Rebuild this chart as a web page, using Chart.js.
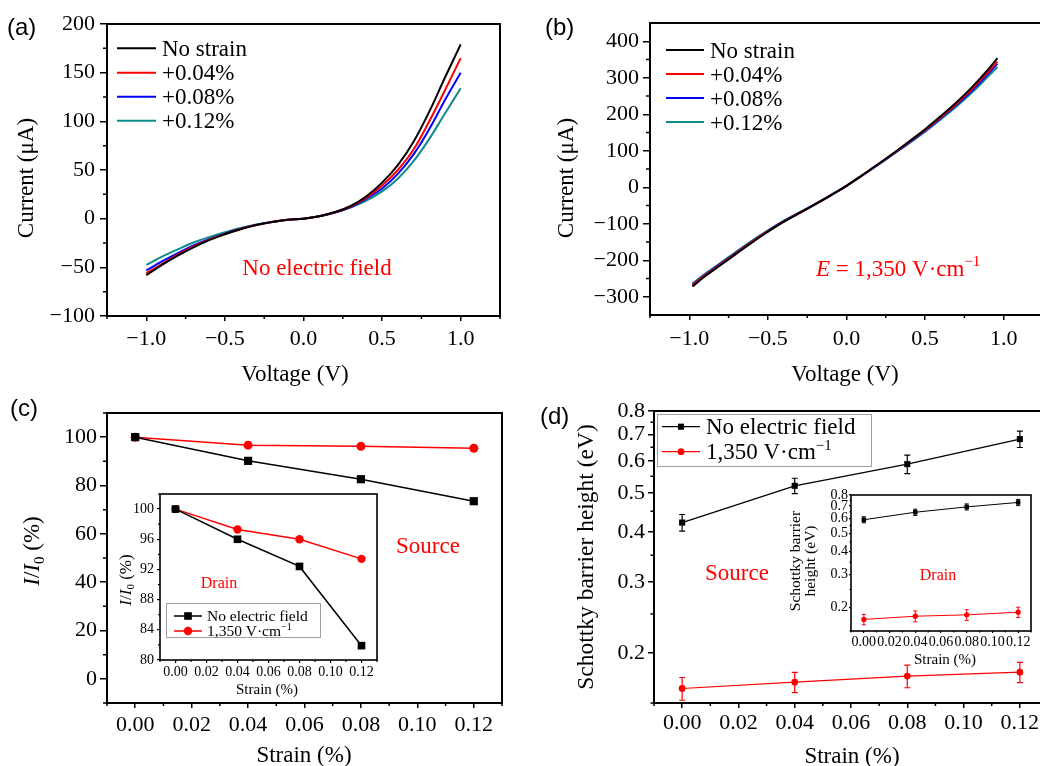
<!DOCTYPE html>
<html><head><meta charset="utf-8">
<script src="https://cdn.jsdelivr.net/npm/chart.js@4.4.1/dist/chart.umd.min.js"></script>
<style>
html,body{margin:0;padding:0;background:#fff;width:1040px;height:766px;overflow:hidden;position:relative}
canvas{position:absolute;left:0;top:0}
</style></head><body>
<canvas id="cA" width="1100" height="766"></canvas>
<canvas id="cB" width="1100" height="766"></canvas>
<canvas id="cC" width="1100" height="766"></canvas>
<canvas id="cD" width="1100" height="766"></canvas>
<canvas id="cCin" width="1100" height="766"></canvas>
<canvas id="cDin" width="1100" height="766"></canvas>
<script>
// ---------- data ----------
const voltageA = [-1.0,-0.9,-0.8,-0.7,-0.6,-0.5,-0.4,-0.3,-0.2,-0.1,0,0.1,0.2,0.3,0.4,0.5,0.6,0.7,0.8,0.9,1.0];
const aNoStrain = [-58,-47.5,-38,-29.5,-22,-16,-10.8,-6.6,-3.5,-1.2,0,2.5,6.8,13,23,37,55,79,110,145,179];
const aStrain004 = [-56,-46.5,-37,-28.5,-21.5,-15.8,-10.6,-6.5,-3.5,-1.2,0,2.5,6.6,12.5,21.5,34,50,71,100,132,165];
const aStrain008 = [-53,-44,-35.5,-27.5,-21,-15.4,-10.2,-6.4,-3.4,-1.2,0,2.5,6.4,12,20.5,31,46,66,92,122,150];
const aStrain012 = [-47.5,-39,-31.5,-24.5,-19,-14,-9.5,-6,-3.3,-1.2,0,2.4,6.2,11.5,18.5,28,41,59,82,108,134];

const voltageB = [-0.98,-0.9,-0.8,-0.7,-0.6,-0.5,-0.4,-0.3,-0.2,-0.1,0,0.1,0.2,0.3,0.4,0.5,0.6,0.7,0.8,0.9,0.96];
const bNoStrain = [-272,-244,-213,-182,-151,-122,-95,-71,-47,-22,4,33,63,94,126,159,195,233,275,322,354];
const bStrain004 = [-269,-241,-211,-180,-149,-121,-94,-71,-47,-22,4,33,63,93,125,157,192,229,270,315,344];
const bStrain008 = [-267,-240,-209,-179,-148,-120,-93,-70,-46,-22,4,33,62,92,123,155,190,226,266,310,338];
const bStrain012 = [-264,-237,-207,-176,-146,-118,-92,-69,-46,-21,4,32,61,91,121,152,186,221,260,303,329];

const strainX = [0, 0.04, 0.08, 0.12];
const cNoField = [100, 90.2, 82.6, 73.5];
const cField = [100, 96.7, 96.2, 95.4];
const cInNoField = [100, 96.0, 92.4, 81.9];
const cInField = [100, 97.3, 96.0, 93.4];

const dNoField = [0.422, 0.521, 0.590, 0.681];
const dNoFieldErr = [0.020, 0.023, 0.031, 0.032];
const dField = [0.163, 0.169, 0.175, 0.179];
const dFieldErr = [0.0106, 0.0098, 0.0113, 0.0104];
const dInNoField = [0.590, 0.647, 0.691, 0.730];
const dInNoFieldErr = [0.022, 0.025, 0.026, 0.028];
const dInField = [0.173, 0.180, 0.183, 0.189];
const dInFieldErr = [0.011, 0.012, 0.012, 0.012];

// tick labels
const xTicksV = [-1.0, -0.5, 0.0, 0.5, 1.0];
const xMinorV = [-1.25, -0.75, -0.25, 0.25, 0.75, 1.25];
const yTicksA = [-100, -50, 0, 50, 100, 150, 200];
const yMinorA = [-75, -25, 25, 75, 125, 175];
const yTicksB = [-300, -200, -100, 0, 100, 200, 300, 400];
const yMinorB = [-250, -150, -50, 50, 150, 250, 350];
const xTicksS = [0.00, 0.02, 0.04, 0.06, 0.08, 0.10, 0.12];
const xMinorS = [-0.01, 0.01, 0.03, 0.05, 0.07, 0.09, 0.11, 0.13];
const yTicksC = [0, 20, 40, 60, 80, 100];
const yMinorC = [-10, 10, 30, 50, 70, 90, 110];
const yTicksCin = [80, 84, 88, 92, 96, 100];
const yMinorCin = [82, 86, 90, 94, 98, 102];
const yTicksD = [0.2, 0.3, 0.4, 0.5, 0.6, 0.7, 0.8];
const yMinorD = [0.15, 0.25, 0.35, 0.45, 0.55, 0.65, 0.75];

const strainLabels = ['No strain', '+0.04%', '+0.08%', '+0.12%'];

// ---------- helpers ----------
const SERIF = '"Liberation Serif","Times New Roman",serif';
const SANS = '"Liberation Sans",Arial,sans-serif';
const W = 1100, H = 766;
const BLACK = '#000000', RED = '#ff0000', BLUE = '#0000ff', TEAL = '#0e8c8c';
const fieldLabel = [{t:'1,350 V\u00b7cm'},{t:'\u22121', sup:true}];
const ratioLabel = [{t:'I', i:true},{t:'/'},{t:'I', i:true},{t:'0', sub:true},{t:' (%)'}];

const pts = (xs, ys) => xs.map((x, i) => ({x: x, y: ys[i]}));
const signed = (v, d) => (v < 0 ? '\u2212' : '') + (d == null ? String(Math.abs(v)) : Math.abs(v).toFixed(d));

function drawRich(ctx, t) {
  const size = t.size, fam = t.family || SERIF;
  const segs = typeof t.segs === 'string' ? [{t: t.segs}] : t.segs;
  const fontOf = s => (s.i ? 'italic ' : '') + ((s.sub || s.sup) ? size * 0.65 : size) + 'px ' + fam;
  let w = 0;
  for (const s of segs) { ctx.font = fontOf(s); w += ctx.measureText(s.t).width; }
  ctx.save();
  ctx.translate(t.x, t.y);
  if (t.rot) ctx.rotate(t.rot);
  let x = t.align === 'left' ? 0 : (t.align === 'right' ? -w : -w / 2);
  const base = size * 0.33;
  ctx.fillStyle = t.color || '#000';
  ctx.textAlign = 'left';
  ctx.textBaseline = 'alphabetic';
  for (const s of segs) {
    ctx.font = fontOf(s);
    const dy = s.sub ? size * 0.22 : (s.sup ? -size * 0.42 : 0);
    ctx.fillText(s.t, x, base + dy);
    x += ctx.measureText(s.t).width;
  }
  ctx.restore();
}

function drawMarker(ctx, style, r, x, y, color) {
  ctx.save();
  ctx.fillStyle = color;
  ctx.beginPath();
  if (style === 'rect') { const h = r * Math.SQRT1_2; ctx.rect(x - h, y - h, 2 * h, 2 * h); }
  else ctx.arc(x, y, r, 0, Math.PI * 2);
  ctx.fill();
  ctx.restore();
}

function panelPlugin(cfg) {
  return {
    id: 'panel',
    beforeDraw(chart) {
      if (!cfg.bg) return;
      const a = chart.chartArea, ctx = chart.ctx;
      ctx.save(); ctx.fillStyle = '#fff';
      ctx.fillRect(a.left, a.top, a.right - a.left, a.bottom - a.top);
      ctx.restore();
    },
    beforeDatasetsDraw(chart) {
      if (!cfg.errors) return;
      const ctx = chart.ctx, xs = chart.scales.x, ys = chart.scales.y;
      ctx.save();
      for (const e of cfg.errors) {
        const data = chart.data.datasets[e.ds].data;
        ctx.strokeStyle = e.color; ctx.lineWidth = e.width;
        data.forEach((p, i) => {
          const px = xs.getPixelForValue(p.x);
          const y1 = ys.getPixelForValue(p.y - e.err[i]);
          const y2 = ys.getPixelForValue(p.y + e.err[i]);
          ctx.beginPath();
          ctx.moveTo(px, y1); ctx.lineTo(px, y2);
          ctx.moveTo(px - e.cap, y1); ctx.lineTo(px + e.cap, y1);
          ctx.moveTo(px - e.cap, y2); ctx.lineTo(px + e.cap, y2);
          ctx.stroke();
        });
      }
      ctx.restore();
    },
    afterDraw(chart) {
      const ctx = chart.ctx, a = chart.chartArea;
      const xs = chart.scales.x, ys = chart.scales.y;
      ctx.save();
      ctx.strokeStyle = '#000'; ctx.lineWidth = cfg.tickW;
      ctx.beginPath();
      for (const v of cfg.x.minor) { const p = xs.getPixelForValue(v); ctx.moveTo(p, a.bottom); ctx.lineTo(p, a.bottom + cfg.x.ml); }
      for (const v of cfg.y.minor) { const p = ys.getPixelForValue(v); ctx.moveTo(a.left, p); ctx.lineTo(a.left - cfg.y.ml, p); }
      ctx.stroke();
      ctx.lineWidth = cfg.frameW;
      ctx.strokeRect(a.left, a.top, a.right - a.left, a.bottom - a.top);
      ctx.restore();
      const L = cfg.legend;
      if (L) {
        ctx.save();
        if (L.box) {
          ctx.strokeStyle = '#a0a0a0'; ctx.lineWidth = 1;
          ctx.strokeRect(L.box.l + 0.5, L.box.t + 0.5, L.box.r - L.box.l, L.box.b - L.box.t);
        }
        chart.data.datasets.forEach((ds, i) => {
          const y = L.rows[i];
          ctx.strokeStyle = ds.borderColor; ctx.lineWidth = L.lw || ds.borderWidth;
          ctx.beginPath(); ctx.moveTo(L.x0, y); ctx.lineTo(L.x1, y); ctx.stroke();
          if (L.markers) drawMarker(ctx, ds.pointStyle, L.markers[i], (L.x0 + L.x1) / 2, y, ds.borderColor);
          drawRich(ctx, {segs: L.labels[i], x: L.tx, y: y, size: L.size, align: 'left'});
        });
        ctx.restore();
      }
      for (const t of (cfg.texts || [])) drawRich(ctx, t);
    }
  };
}

function makeAxis(cfg, ax, isX) {
  return {
    type: ax.type || 'linear',
    position: isX ? 'bottom' : 'left',
    min: ax.min, max: ax.max, bounds: 'data',
    afterBuildTicks: s => { s.ticks = ax.ticks.map(v => ({value: v})); },
    afterFit: s => {
      if (isX) s.height = H - cfg.area.b; else s.width = cfg.area.l;
      s.paddingLeft = 0; s.paddingRight = 0; s.paddingTop = 0; s.paddingBottom = 0;
    },
    ticks: {
      autoSkip: false, maxRotation: 0, minRotation: 0, color: '#000',
      font: {family: SERIF, size: ax.size}, padding: ax.pad,
      callback: v => ax.fmt(v)
    },
    grid: {drawOnChartArea: false, drawTicks: true, tickLength: ax.tl, color: '#000', lineWidth: cfg.tickW, tickWidth: cfg.tickW},
    border: {display: false}
  };
}

function makeChart(id, cfg) {
  return new Chart(document.getElementById(id), {
    type: 'line',
    data: {datasets: cfg.datasets},
    options: {
      responsive: false, animation: false, devicePixelRatio: 1,
      events: [],
      layout: {padding: {left: 0, top: cfg.area.t, right: W - cfg.area.r, bottom: 0}},
      plugins: {legend: {display: false}, tooltip: {enabled: false}, title: {display: false}},
      scales: {x: makeAxis(cfg, cfg.x, true), y: makeAxis(cfg, cfg.y, false)}
    },
    plugins: [panelPlugin(cfg)]
  });
}

function curve(xs, ys, color) {
  return {data: pts(xs, ys), borderColor: color, backgroundColor: color, borderWidth: 2,
          pointRadius: 0, tension: 0.4, fill: false};
}
function marked(xs, ys, color, style, r, lw) {
  return {data: pts(xs, ys), borderColor: color, backgroundColor: color, borderWidth: lw,
          pointStyle: style, pointRadius: r, pointBackgroundColor: color, pointBorderColor: color,
          pointBorderWidth: 0, tension: 0, fill: false};
}

// ---------- panel (a) ----------
makeChart('cA', {
  area: {l: 107, t: 24, r: 500, b: 316}, frameW: 2, tickW: 1.5,
  x: {min: -1.25, max: 1.25, ticks: xTicksV, minor: xMinorV, fmt: v => signed(v, 1), size: 22, pad: 5, tl: 5, ml: 3},
  y: {min: -100, max: 200, ticks: yTicksA, minor: yMinorA, fmt: v => signed(v), size: 22, pad: 5, tl: 7, ml: 4},
  datasets: [curve(voltageA, aNoStrain, BLACK), curve(voltageA, aStrain004, RED),
             curve(voltageA, aStrain008, BLUE), curve(voltageA, aStrain012, TEAL)],
  legend: {x0: 117, x1: 156, tx: 162, rows: [48.3, 72.7, 96.7, 120.7], size: 23, labels: strainLabels},
  texts: [
    {segs: '(a)', x: 7, y: 27, size: 24, family: SANS, align: 'left'},
    {segs: 'Voltage (V)', x: 295, y: 373, size: 23},
    {segs: 'Current (\u03bcA)', x: 25, y: 178, size: 23, rot: -Math.PI / 2},
    {segs: 'No electric field', x: 317, y: 267, size: 23, color: RED}
  ]
});

// ---------- panel (b) ----------
makeChart('cB', {
  area: {l: 650, t: 23, r: 1043, b: 315}, frameW: 2, tickW: 1.5,
  x: {min: -1.25, max: 1.25, ticks: xTicksV, minor: xMinorV, fmt: v => signed(v, 1), size: 22, pad: 6, tl: 5, ml: 3},
  y: {min: -350, max: 450, ticks: yTicksB, minor: yMinorB, fmt: v => signed(v), size: 22, pad: 4, tl: 7, ml: 4},
  datasets: [curve(voltageB, bNoStrain, BLACK), curve(voltageB, bStrain004, RED),
             curve(voltageB, bStrain008, BLUE), curve(voltageB, bStrain012, TEAL)],
  legend: {x0: 666, x1: 704, tx: 710, rows: [50, 74, 98, 122], size: 23, labels: strainLabels},
  texts: [
    {segs: '(b)', x: 545, y: 27, size: 24, family: SANS, align: 'left'},
    {segs: 'Voltage (V)', x: 845, y: 373, size: 23},
    {segs: 'Current (\u03bcA)', x: 565, y: 178, size: 23, rot: -Math.PI / 2},
    {segs: [{t: 'E', i: true}, {t: ' = 1,350 V\u00b7cm'}, {t: '\u22121', sup: true}], x: 816, y: 268, size: 23, color: RED, align: 'left'}
  ]
});

// ---------- panel (c) ----------
makeChart('cC', {
  area: {l: 107, t: 413, r: 502, b: 703}, frameW: 2, tickW: 1.5,
  x: {min: -0.01, max: 0.13, ticks: xTicksS, minor: xMinorS, fmt: v => v.toFixed(2), size: 22, pad: 4, tl: 5, ml: 3},
  y: {min: -10, max: 110, ticks: yTicksC, minor: yMinorC, fmt: v => signed(v), size: 22, pad: 3, tl: 7, ml: 4},
  datasets: [marked(strainX, cNoField, BLACK, 'rect', 5.8, 1.5), marked(strainX, cField, RED, 'circle', 4.5, 1.5)],
  texts: [
    {segs: '(c)', x: 10, y: 408, size: 24, family: SANS, align: 'left'},
    {segs: 'Strain (%)', x: 304, y: 754, size: 23},
    {segs: ratioLabel, x: 31, y: 551, size: 23, rot: -Math.PI / 2},
    {segs: 'Source', x: 428, y: 545, size: 23, color: RED}
  ]
});

// ---------- panel (d) ----------
makeChart('cD', {
  area: {l: 654, t: 411, r: 1048, b: 703}, frameW: 2, tickW: 1.5,
  x: {min: -0.01, max: 0.13, ticks: xTicksS, minor: xMinorS, fmt: v => v.toFixed(2), size: 22, pad: 2, tl: 5, ml: 3},
  y: {type: 'logarithmic', min: 0.15, max: 0.8, ticks: yTicksD, minor: yMinorD, fmt: v => v.toFixed(1), size: 22, pad: 3, tl: 6, ml: 3.5},
  datasets: [marked(strainX, dNoField, BLACK, 'rect', 4.3, 1.2), marked(strainX, dField, RED, 'circle', 3.4, 1.2)],
  errors: [{ds: 0, err: dNoFieldErr, color: BLACK, width: 1.2, cap: 3}, {ds: 1, err: dFieldErr, color: RED, width: 1.2, cap: 3}],
  legend: {box: {l: 657, t: 414, r: 871, b: 466}, x0: 662, x1: 700, tx: 706, rows: [426.7, 451.7], size: 23,
           labels: ['No electric field', fieldLabel], markers: [4.3, 3.4], lw: 1.2},
  texts: [
    {segs: '(d)', x: 540, y: 416, size: 24, family: SANS, align: 'left'},
    {segs: 'Strain (%)', x: 852, y: 755, size: 23},
    {segs: 'Schottky barrier height (eV)', x: 585, y: 557, size: 23.5, rot: -Math.PI / 2},
    {segs: 'Source', x: 737, y: 572, size: 23, color: RED}
  ]
});

// ---------- inset (c) ----------
makeChart('cCin', {
  area: {l: 160, t: 494, r: 377, b: 660}, frameW: 1.6, tickW: 1.2, bg: true,
  x: {min: -0.01, max: 0.13, ticks: xTicksS, minor: xMinorS, fmt: v => v.toFixed(2), size: 14, pad: 1, tl: 3, ml: 2},
  y: {min: 80, max: 102, ticks: yTicksCin, minor: yMinorCin, fmt: v => signed(v), size: 14, pad: 3, tl: 3, ml: 2},
  datasets: [marked(strainX, cInNoField, BLACK, 'rect', 5.4, 1.5), marked(strainX, cInField, RED, 'circle', 4.2, 1.5)],
  legend: {box: {l: 166, t: 603, r: 320, b: 637}, x0: 174, x1: 202, tx: 207, rows: [616, 631], size: 15.5,
           labels: ['No electric field', fieldLabel], markers: [5.4, 4.2], lw: 1.5},
  texts: [
    {segs: 'Strain (%)', x: 267, y: 689.5, size: 15},
    {segs: ratioLabel, x: 125, y: 580, size: 17, rot: -Math.PI / 2},
    {segs: 'Drain', x: 219, y: 583, size: 16, color: RED}
  ]
});

// ---------- inset (d) ----------
makeChart('cDin', {
  area: {l: 851, t: 495, r: 1031, b: 631}, frameW: 1.6, tickW: 1.2, bg: true,
  x: {min: -0.01, max: 0.13, ticks: xTicksS, minor: xMinorS, fmt: v => v.toFixed(2), size: 14, pad: 1, tl: 2, ml: 1.5},
  y: {type: 'logarithmic', min: 0.15, max: 0.8, ticks: yTicksD, minor: yMinorD, fmt: v => v.toFixed(1), size: 14, pad: 1, tl: 2, ml: 1.5},
  datasets: [marked(strainX, dInNoField, BLACK, 'rect', 3.2, 1), marked(strainX, dInField, RED, 'circle', 2.6, 1)],
  errors: [{ds: 0, err: dInNoFieldErr, color: BLACK, width: 1, cap: 2}, {ds: 1, err: dInFieldErr, color: RED, width: 1, cap: 2}],
  texts: [
    {segs: 'Strain (%)', x: 945, y: 659, size: 15},
    {segs: 'Schottky barrier', x: 795, y: 561, size: 15.5, rot: -Math.PI / 2},
    {segs: 'height (eV)', x: 810, y: 561, size: 15.5, rot: -Math.PI / 2},
    {segs: 'Drain', x: 938, y: 575, size: 16, color: RED}
  ]
});
</script>
</body></html>
